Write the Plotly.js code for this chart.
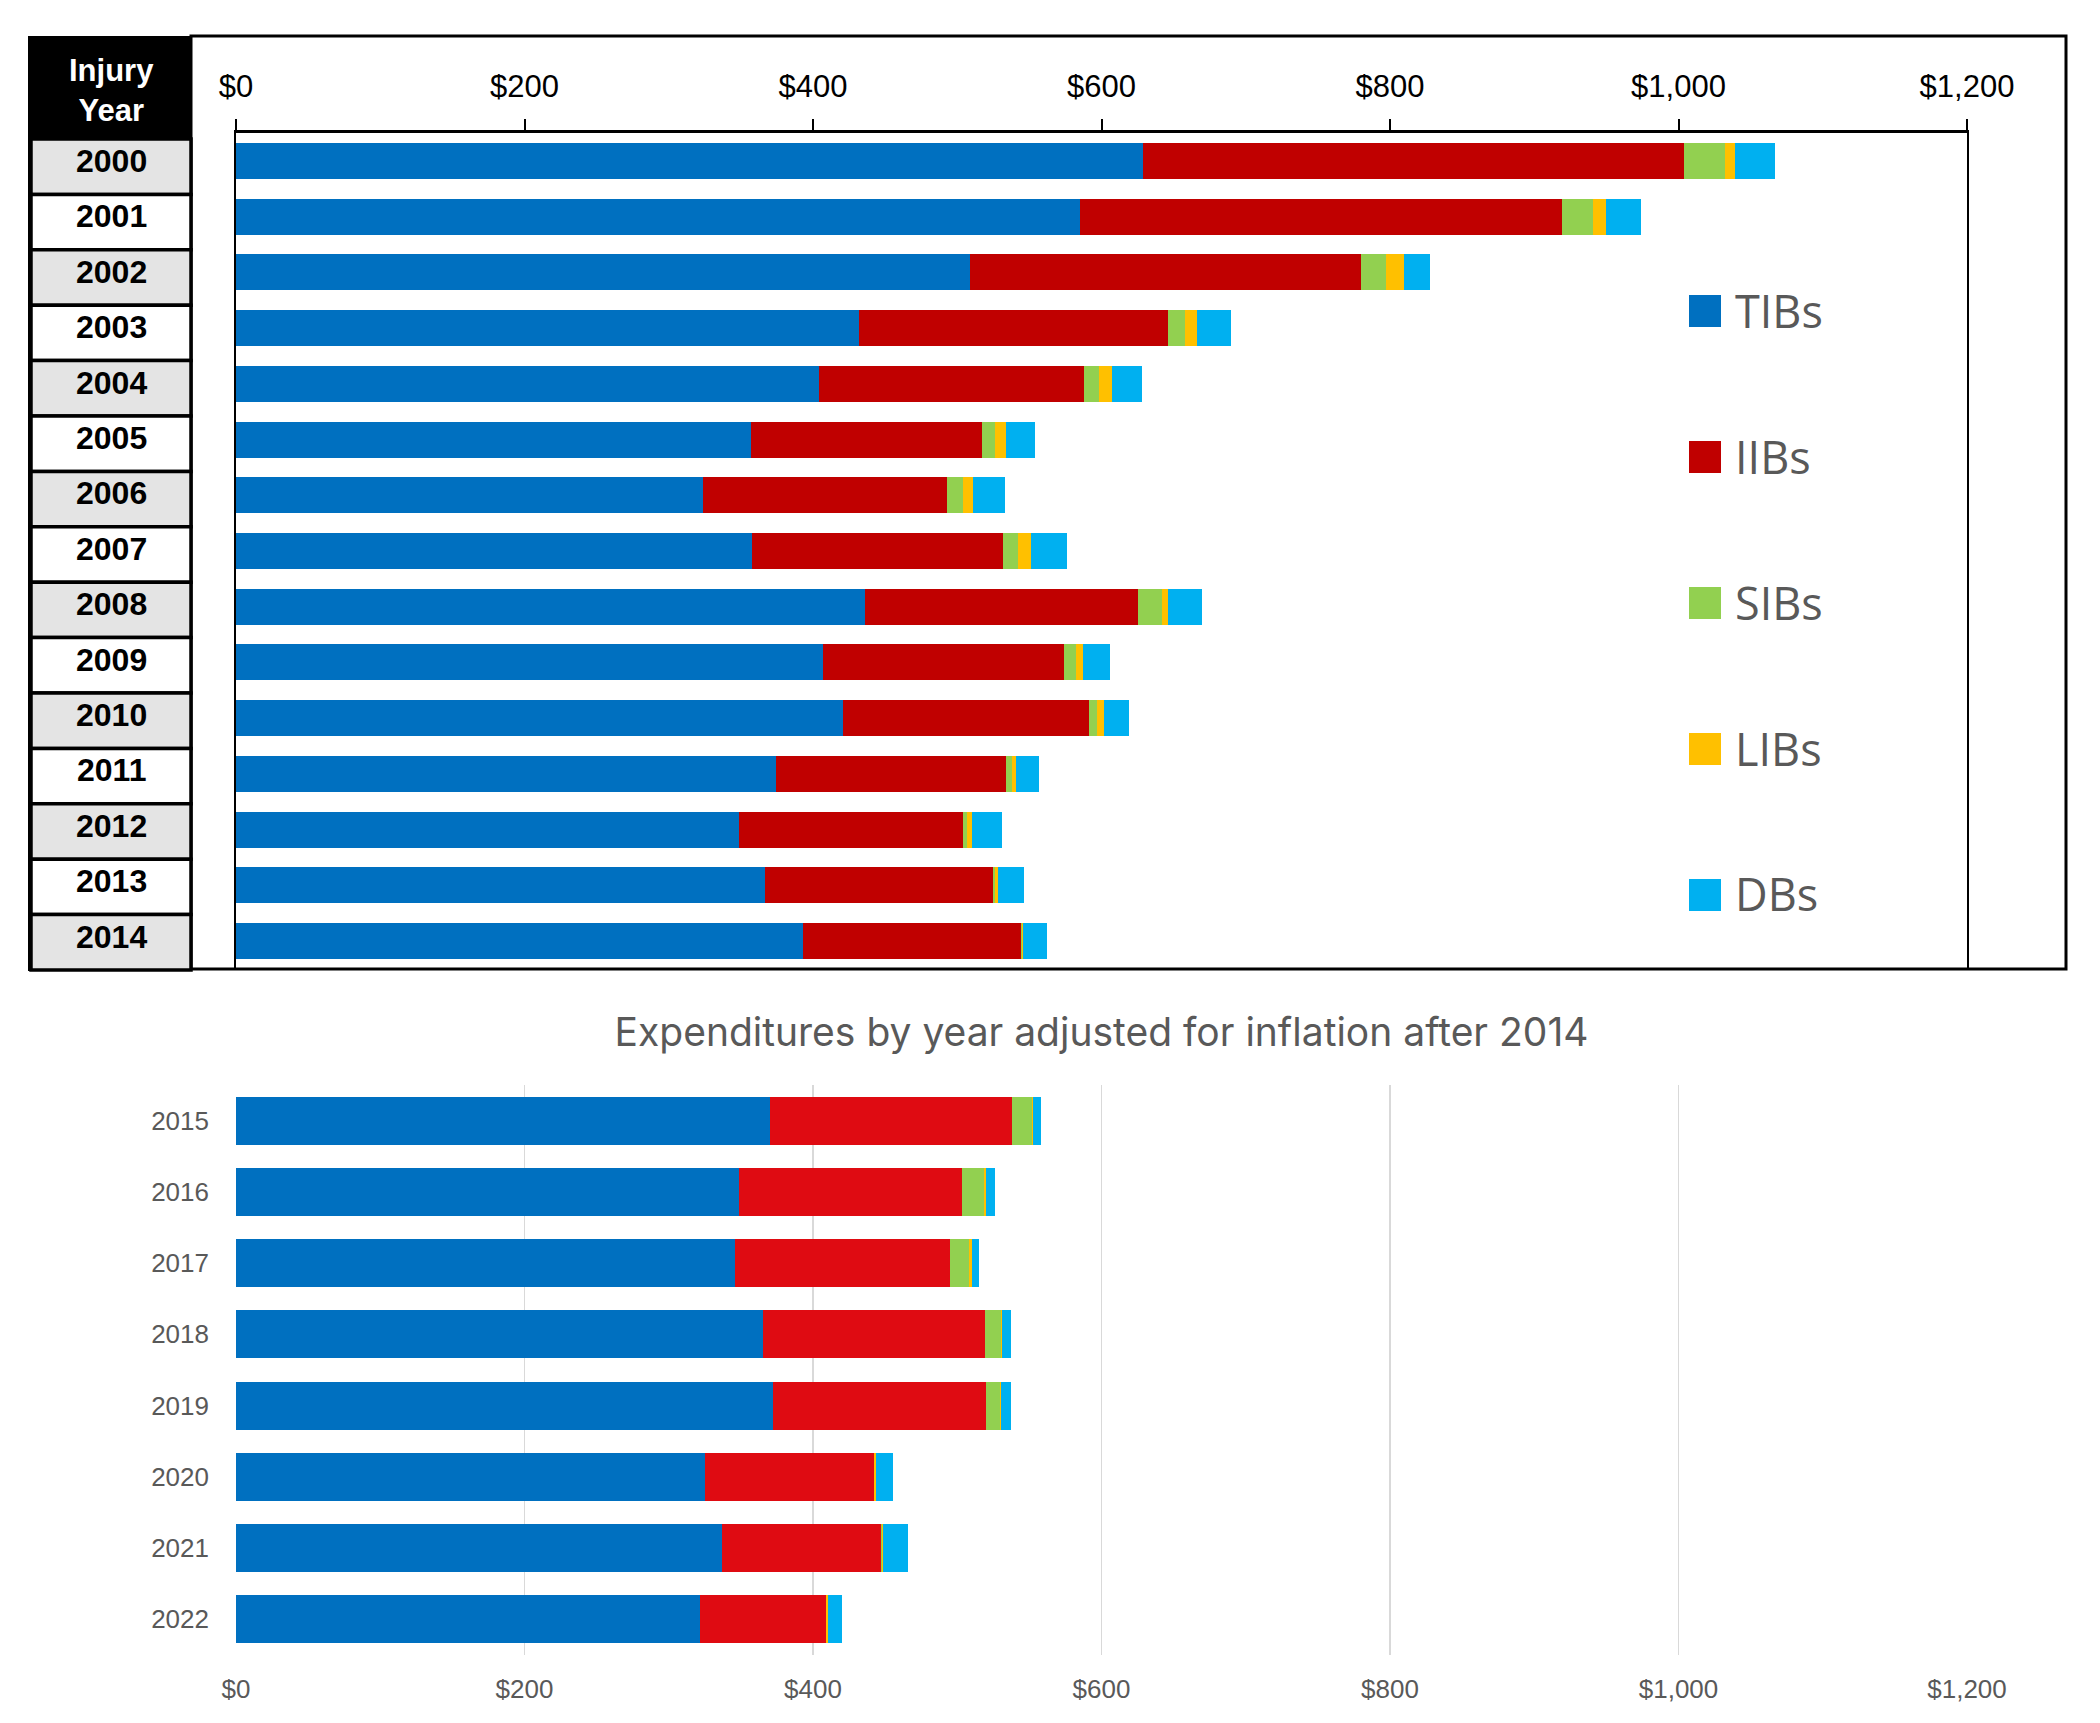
<!DOCTYPE html>
<html>
<head>
<meta charset="utf-8">
<script src="https://cdn.plot.ly/plotly-3.0.1.min.js"></script>
<style>
  html, body { margin: 0; padding: 0; background: #ffffff; }
  #chart { width: 2100px; height: 1723px; }
</style>
</head>
<body>
<div id="chart"></div>
<script>
// ---------------- DATA ----------------
const seriesNames = ['TIBs', 'IIBs', 'SIBs', 'LIBs', 'DBs'];
const topColors = ['#0070C0', '#C00000', '#92D050', '#FFC000', '#00B0F0'];
const bottomColors = ['#0070C0', '#DF0B12', '#92D050', '#FFC000', '#00B0F0'];

const topYears = ['2000', '2001', '2002', '2003', '2004', '2005', '2006', '2007',
                  '2008', '2009', '2010', '2011', '2012', '2013', '2014'];
const topTIBs = [629, 585, 509, 432, 404, 357, 324, 358, 436, 407, 421, 374, 349, 367, 393];
const topIIBs = [375, 334, 271, 214, 184, 160, 169, 174, 189, 167, 170, 160, 155, 158, 151];
const topSIBs = [28, 22, 17, 12, 10, 9, 11, 10, 17, 8, 6, 4, 3, 1.3, 0.6];
const topLIBs = [7, 9, 13, 8, 9, 8, 7, 9, 4, 5, 5, 3, 3, 2, 1.3];
const topDBs  = [28, 24, 18, 24, 21, 20, 22, 25, 24, 19, 17, 16, 21, 18, 16];

const bottomYears = ['2015', '2016', '2017', '2018', '2019', '2020', '2021', '2022'];
const bottomTIBs = [370, 349, 346, 365, 372, 325, 337, 322];
const bottomIIBs = [168, 154, 149, 154, 148, 117, 110, 87];
const bottomSIBs = [14, 15.5, 13, 11, 9.6, 0.3, 0.5, 0.3];
const bottomLIBs = [0.8, 1.7, 2, 1.2, 0.9, 1.6, 0.9, 0.9];
const bottomDBs  = [5.6, 5.8, 5, 6, 6.7, 11.4, 17.2, 10];

const headerText = 'Injury<br>Year';
const bottomTitle = 'Expenditures by year adjusted for inflation after 2014';

// ---------------- LAYOUT HELPERS ----------------
const W = 2100, H = 1723;
const px = x => x / W;
const py = y => 1 - y / H;

const topSeries = [topTIBs, topIIBs, topSIBs, topLIBs, topDBs];
const bottomSeries = [bottomTIBs, bottomIIBs, bottomSIBs, bottomLIBs, bottomDBs];

const traces = [];
seriesNames.forEach((name, k) => {
  traces.push({
    type: 'bar', orientation: 'h', name: name,
    y: topYears, x: topSeries[k],
    xaxis: 'x', yaxis: 'y',
    width: 0.645,
    marker: { color: topColors[k], line: { width: 0 } },
    showlegend: false, hoverinfo: 'x+name'
  });
});
seriesNames.forEach((name, k) => {
  traces.push({
    type: 'bar', orientation: 'h', name: name,
    y: bottomYears, x: bottomSeries[k],
    xaxis: 'x2', yaxis: 'y2',
    width: 0.675,
    marker: { color: bottomColors[k], line: { width: 0 } },
    showlegend: false, hoverinfo: 'x+name'
  });
});

const shapes = [];
const annotations = [];

// outer frame of the top chart
shapes.push({ type: 'rect', xref: 'paper', yref: 'paper',
  x0: px(191), x1: px(2066), y0: py(969), y1: py(36),
  line: { color: '#000000', width: 3 }, fillcolor: 'rgba(0,0,0,0)', layer: 'above' });

// table header
shapes.push({ type: 'rect', xref: 'paper', yref: 'paper',
  x0: px(29), x1: px(191), y0: py(138), y1: py(37),
  line: { color: '#000000', width: 2 }, fillcolor: '#000000', layer: 'above' });
annotations.push({ xref: 'paper', yref: 'paper', x: px(111), y: py(90),
  text: '<b>' + headerText + '</b>', showarrow: false,
  xanchor: 'center', yanchor: 'middle',
  font: { family: 'Liberation Sans, Arial, sans-serif', size: 31, color: '#ffffff' } });

// table rows
const rowTop = 139, rowPitch = 55.4;
topYears.forEach((yr, i) => {
  shapes.push({ type: 'rect', xref: 'paper', yref: 'paper',
    x0: px(31), x1: px(191),
    y0: py(rowTop + rowPitch * (i + 1)), y1: py(rowTop + rowPitch * i),
    line: { color: '#000000', width: 3.5 },
    fillcolor: (i % 2 === 0) ? '#E4E4E4' : '#FFFFFF', layer: 'above' });
  annotations.push({ xref: 'paper', yref: 'paper', x: px(111),
    y: py(rowTop + 22 + rowPitch * i),
    text: '<b>' + yr + '</b>', showarrow: false,
    xanchor: 'center', yanchor: 'middle',
    font: { family: 'Liberation Sans, Arial, sans-serif', size: 32, color: '#000000' } });
});
// thicker left edge of the table
shapes.push({ type: 'line', xref: 'paper', yref: 'paper',
  x0: px(30), x1: px(30), y0: py(rowTop + rowPitch * topYears.length + 1), y1: py(37),
  line: { color: '#000000', width: 4 }, layer: 'above' });

// legend (manual, large squares)
seriesNames.forEach((name, k) => {
  const c = 311 + 146 * k;
  shapes.push({ type: 'rect', xref: 'paper', yref: 'paper',
    x0: px(1689), x1: px(1721), y0: py(c + 16), y1: py(c - 16),
    line: { width: 0 }, fillcolor: topColors[k], layer: 'above' });
  annotations.push({ xref: 'paper', yref: 'paper', x: px(1733), y: py(c - 1),
    text: name, showarrow: false, xanchor: 'left', yanchor: 'middle',
    font: { family: 'Open Sans, Noto Sans, sans-serif', size: 45, color: '#595959' } });
});

const layout = {
  width: W, height: H,
  margin: { l: 0, r: 0, t: 0, b: 0 },
  paper_bgcolor: '#ffffff', plot_bgcolor: 'rgba(0,0,0,0)',
  barmode: 'stack',
  showlegend: false,
  font: { family: 'Liberation Sans, Arial, sans-serif', color: '#000000' },
  title: {
    text: bottomTitle,
    x: px((236 + 1967) / 2), xanchor: 'center', xref: 'paper',
    y: py(1032), yanchor: 'middle', yref: 'paper',
    font: { family: 'Inter, Liberation Sans, Arial, sans-serif', size: 39, color: '#595959' }
  },
  xaxis: {
    domain: [px(236), px(1967)], anchor: 'y', side: 'top',
    range: [0, 1200], tick0: 0, dtick: 200,
    tickprefix: '$', tickformat: ',',
    showgrid: false, zeroline: false,
    showline: true, linecolor: '#000000', linewidth: 3,
    ticks: 'outside', ticklen: 11, tickwidth: 2, tickcolor: '#000000',
    ticklabelstandoff: 10,
    tickfont: { family: 'Liberation Sans, Arial, sans-serif', size: 31, color: '#000000' },
    fixedrange: true
  },
  yaxis: {
    domain: [py(969), py(133)], anchor: 'x',
    type: 'category', categoryorder: 'array', categoryarray: topYears,
    range: [topYears.length - 0.5, -0.5], autorange: false,
    showticklabels: false, ticks: '',
    showgrid: false, zeroline: false,
    showline: true, mirror: true, linecolor: '#000000', linewidth: 2,
    fixedrange: true
  },
  xaxis2: {
    domain: [px(236), px(1967)], anchor: 'y2',
    range: [0, 1200], tick0: 0, dtick: 200,
    tickprefix: '$', tickformat: ',',
    showgrid: true, gridcolor: '#D9D9D9', gridwidth: 1.5,
    zeroline: false, showline: false, ticks: '',
    ticklabelstandoff: 16,
    tickfont: { family: 'Liberation Sans, Arial, sans-serif', size: 26, color: '#595959' },
    fixedrange: true
  },
  yaxis2: {
    domain: [py(1655), py(1085)], anchor: 'x2',
    type: 'category', categoryorder: 'array', categoryarray: bottomYears,
    range: [bottomYears.length - 0.5, -0.5], autorange: false,
    showgrid: false, zeroline: false, showline: false, ticks: '',
    ticklabelstandoff: 26,
    tickfont: { family: 'Liberation Sans, Arial, sans-serif', size: 26, color: '#595959' },
    fixedrange: true
  },
  shapes: shapes,
  annotations: annotations
};

Plotly.newPlot('chart', traces, layout, { displayModeBar: false, staticPlot: true });
</script>
</body>
</html>
